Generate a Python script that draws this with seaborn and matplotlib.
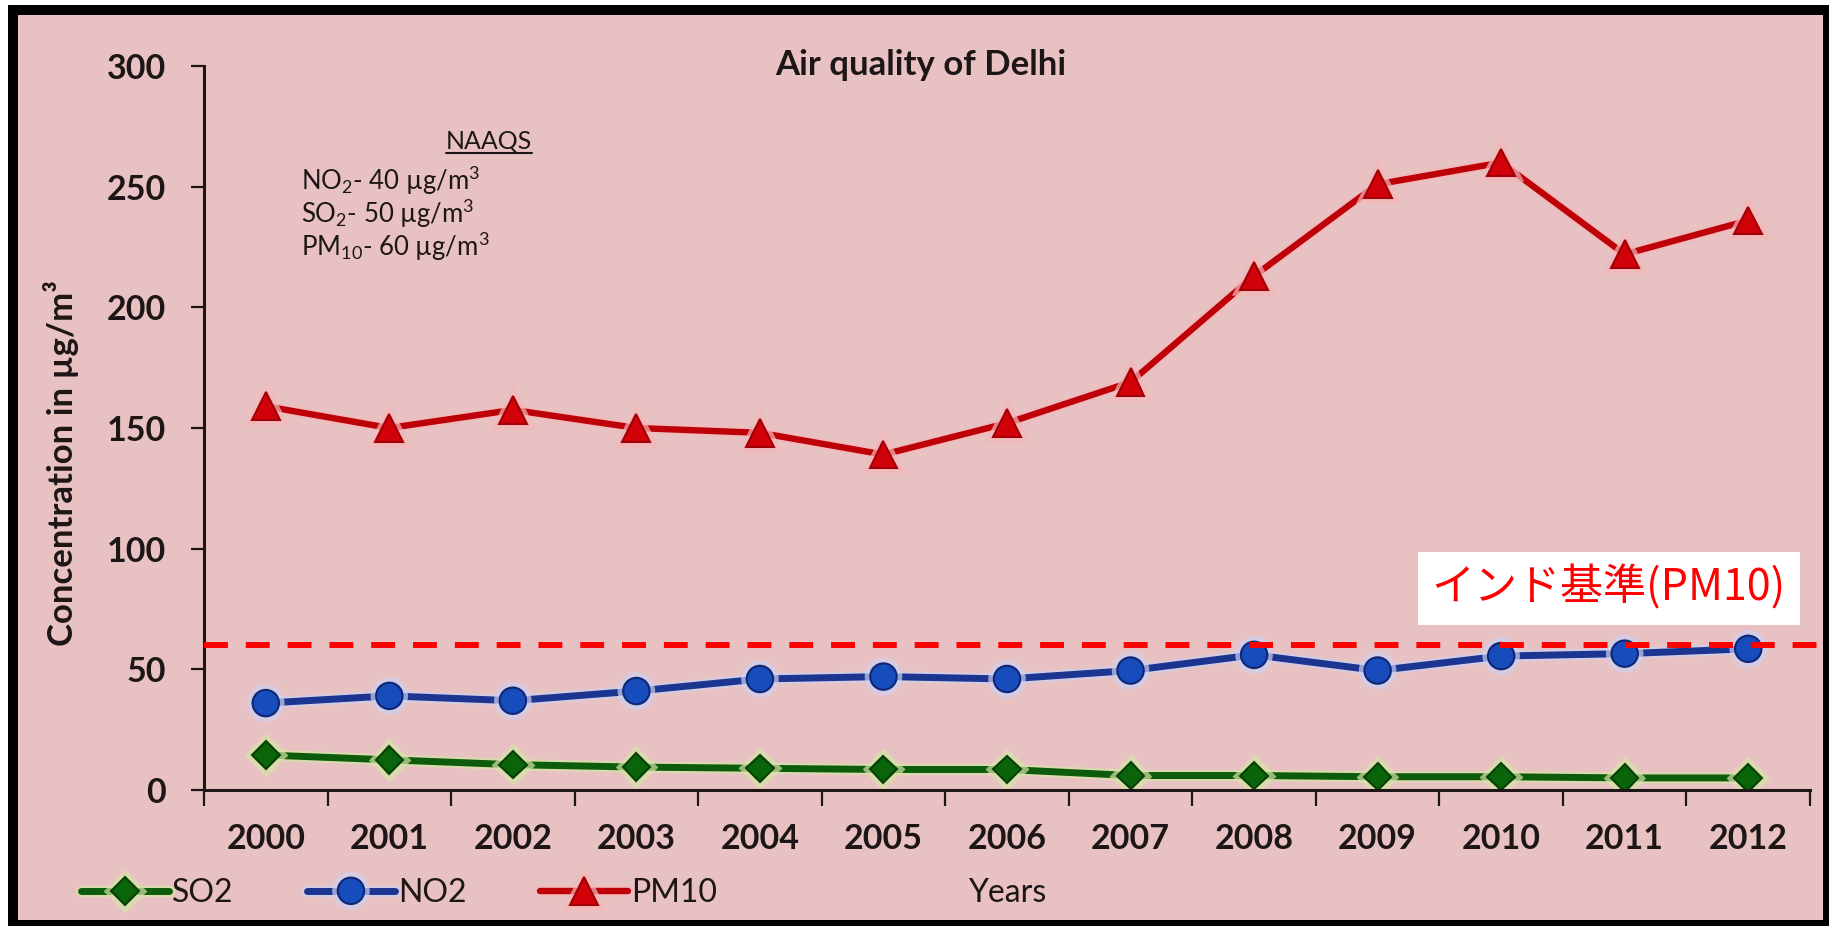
import numpy as np
import pandas as pd
import matplotlib
matplotlib.use("Agg")
import matplotlib.pyplot as plt
import matplotlib.patheffects as pe
from matplotlib.patches import Rectangle
from matplotlib.lines import Line2D
import seaborn as sns

# ---- data -------------------------------------------------------------
years = ["2000", "2001", "2002", "2003", "2004", "2005", "2006",
         "2007", "2008", "2009", "2010", "2011", "2012"]
so2 = [14.5, 12.5, 10.5, 9.5, 9, 8.5, 8.5, 6, 6, 5.5, 5.5, 5, 5]
no2 = [36, 39, 37, 41, 46, 47, 46, 49.5, 56, 49.5, 55.5, 56.5, 58.5]
pm10 = [159, 150, 157.5, 150, 148, 139, 152, 169, 213, 251, 260, 222, 236]
series_names = ["SO2", "NO2", "PM10"]
pm10_standard = 60
y_ticks = [0, 50, 100, 150, 200, 250, 300]

title = "Air quality of Delhi"
y_label = "Concentration in µg/m³"
x_label = "Years"
naaqs_head = "NAAQS"
naaqs_lines = ["NO$_2$- 40 µg/m$^3$", "SO$_2$- 50 µg/m$^3$", "PM$_{10}$- 60 µg/m$^3$"]
standard_label = "インド基準(PM10)"

# ---- style ------------------------------------------------------------
sns.set_style("white")
plt.rcParams["font.family"] = ["Lato", "DejaVu Sans"]
plt.rcParams["mathtext.fontset"] = "custom"
plt.rcParams["mathtext.rm"] = "Lato"
plt.rcParams["mathtext.it"] = "Lato:italic"
plt.rcParams["mathtext.bf"] = "Lato:bold"
plt.rcParams["mathtext.default"] = "regular"

ink = "#1E1616"
pink = "#E8C2C3"
line_colors = {"SO2": "#0C5C0C", "NO2": "#1B3590", "PM10": "#BE0008"}
face_colors = {"SO2": "#0A640A", "NO2": "#174CBC", "PM10": "#D20008"}
edge_colors = {"SO2": "#064006", "NO2": "#0E2676", "PM10": "#A00006"}
glow_colors = {"SO2": "#D6E4A6", "NO2": "#CDD0F2", "PM10": "#F4B8B8"}
markers = {"SO2": "D", "NO2": "o", "PM10": "^"}
marker_sizes = {"SO2": 14, "NO2": 19, "PM10": 20}
line_widths = {"SO2": 5, "NO2": 5, "PM10": 4.6}

df = pd.DataFrame({
    "pos": list(range(len(years))) * 3,
    "value": so2 + no2 + pm10,
    "pollutant": [n for n in series_names for _ in years],
})

W, H = 1829, 926
fig = plt.figure(figsize=(W / 100, H / 100), dpi=100, facecolor="white")

# black frame with pink panel inside
fig.patches.append(Rectangle((8 / W, 0), 1 - 8 / W, 1 - 5 / H,
                             transform=fig.transFigure, facecolor="black",
                             edgecolor="none", zorder=-3))
fig.patches.append(Rectangle((18 / W, 6 / H), (1823 - 18) / W, (920 - 15) / H,
                             transform=fig.transFigure, facecolor=pink,
                             edgecolor="none", zorder=-2))

ax = fig.add_axes([204 / W, 1 - 790 / H, (1810 - 204) / W, (790 - 66) / H])
ax.patch.set_visible(False)

sns.lineplot(data=df, x="pos", y="value", hue="pollutant", style="pollutant",
             hue_order=series_names, style_order=series_names,
             palette=line_colors, markers=markers, dashes=False,
             linewidth=5, ax=ax, legend=False)

series_lines = list(ax.lines[:3])
for line, name in zip(series_lines, series_names):
    line.set_linewidth(line_widths[name])
    line.set_markersize(marker_sizes[name])
    line.set_markerfacecolor(face_colors[name])
    line.set_markeredgecolor(edge_colors[name])
    line.set_markeredgewidth(1.5)
    line.set_path_effects([
        pe.Stroke(linewidth=line_widths[name] + 3, foreground=glow_colors[name], alpha=0.7),
        pe.Normal(),
    ])
    line.set_label(name)

# PM10 national standard
ax.axhline(pm10_standard, xmin=0, xmax=(1822 - 204) / (1810 - 204),
           color="#FF0000", lw=4.3, dashes=(4, 3), clip_on=False, zorder=5)
ax.text(10.87, 83.5, standard_label, fontsize=31, color="#FF0000",
        family=["Noto Sans CJK JP", "DejaVu Sans"], ha="center", va="center",
        zorder=6,
        bbox=dict(boxstyle="square,pad=0.32", facecolor="white", edgecolor="none"))

# axes
ax.set_xlim(-0.5, len(years) - 0.5)
ax.set_ylim(0, 300)
ax.set_xticks(np.arange(-0.5, len(years), 1.0))
ax.set_xticks(range(len(years)), minor=True)
ax.set_xticklabels(years, minor=True)
ax.set_yticks(y_ticks)
ax.set_yticklabels([str(v) for v in y_ticks])
ax.tick_params(axis="x", which="major", bottom=True, length=11.5, width=1.6,
               color=ink, direction="out", labelbottom=False)
ax.tick_params(axis="x", which="minor", bottom=True, length=0, pad=24,
               labelsize=24.5, labelcolor=ink)
ax.tick_params(axis="y", left=True, length=9.5, width=1.6, color=ink,
               direction="out", pad=18, labelsize=24.5, labelcolor=ink)
for lab in ax.get_xticklabels(minor=True) + ax.get_yticklabels():
    lab.set_fontweight("bold")
for side in ("top", "right"):
    ax.spines[side].set_visible(False)
for side in ("left", "bottom"):
    ax.spines[side].set_color(ink)
    ax.spines[side].set_linewidth(2.2)

ax.set_ylabel(y_label, fontsize=25, fontweight="bold", color=ink)
ax.yaxis.set_label_coords((61 - 204) / 1606, (790 - 463) / 724)
ax.yaxis.label.set_va("center")
ax.set_xlabel(x_label, fontsize=23, color=ink)
ax.xaxis.set_label_coords(0.5, -(893 - 790) / 724)
ax.xaxis.label.set_va("center")

ax.text((921 - 204) / 1606, (790 - 65) / 724, title, transform=ax.transAxes,
        fontsize=25, fontweight="bold", color=ink, ha="center", va="center")

# standards note, heading underlined across its own width
head = fig.text(489 / W, 1 - 141 / H, naaqs_head, fontsize=18, color=ink,
                ha="center", va="center")
renderer = fig.canvas.get_renderer()
hb = head.get_window_extent(renderer).transformed(fig.transFigure.inverted())
fig.add_artist(Line2D([hb.x0, hb.x1], [1 - 153 / H, 1 - 153 / H],
                      transform=fig.transFigure, color=ink, lw=1.5))
for i, txt in enumerate(naaqs_lines):
    fig.text(301 / W, 1 - (181 + 33 * i) / H, txt, fontsize=18.5, color=ink,
             ha="left", va="center")

fig.legend(handles=series_lines, labels=series_names, loc="center left",
           bbox_to_anchor=(81 / W, 1 - 893 / H), ncol=3, frameon=False,
           fontsize=23, handlelength=2.75, handletextpad=0.1,
           columnspacing=2.3, borderpad=0, borderaxespad=0, labelcolor=ink)

fig.savefig("out.png", dpi=100, facecolor="white")
